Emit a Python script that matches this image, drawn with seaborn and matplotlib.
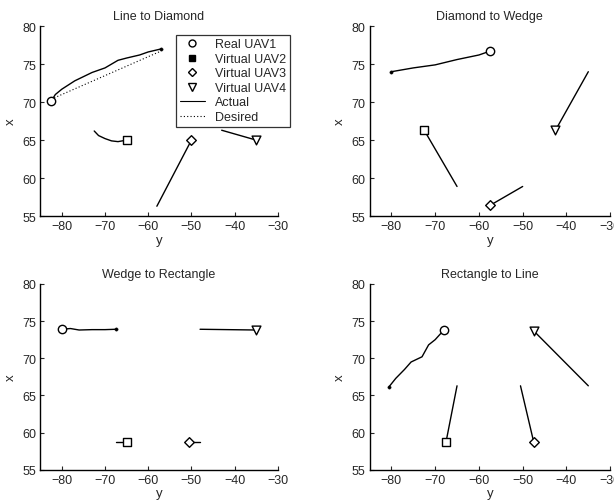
import numpy as np
import pandas as pd
import matplotlib
matplotlib.use("Agg")
import matplotlib.pyplot as plt
from matplotlib.lines import Line2D
import seaborn as sns

sns.set_style("ticks")
plt.rcParams['font.family'] = ['Liberation Sans', 'DejaVu Sans']

titles = ["Line to Diamond", "Diamond to Wedge", "Wedge to Rectangle", "Rectangle to Line"]
labels = ["Real UAV1", "Virtual UAV2", "Virtual UAV3", "Virtual UAV4"]
markers = ["o", "s", "D", "v"]

# Panel 1: Line to Diamond  (y, x) pairs along each path; final position last
p1_uav1_y = [-57, -60, -62, -65, -67, -70, -73, -77, -80, -81.5, -82.5]
p1_uav1_x = [77.0, 76.6, 76.2, 75.8, 75.5, 74.5, 73.9, 72.8, 71.7, 71.0, 70.1]
p1_uav1_des_y = [-57.5, -82.0]
p1_uav1_des_x = [76.6, 70.5]
p1_uav2_y = [-72.5, -71.5, -70, -68.5, -67, -65]
p1_uav2_x = [66.2, 65.6, 65.2, 64.9, 64.8, 65.0]
p1_uav3_y = [-58, -50]
p1_uav3_x = [56.3, 65.0]
p1_uav4_y = [-43, -35]
p1_uav4_x = [66.3, 65.0]

# Panel 2: Diamond to Wedge
p2_uav1_y = [-80, -75, -70, -65, -60, -57.5]
p2_uav1_x = [74.0, 74.5, 74.9, 75.6, 76.2, 76.7]
p2_uav2_y = [-65, -72.5]
p2_uav2_x = [58.9, 66.3]
p2_uav3_y = [-50, -57.5]
p2_uav3_x = [58.9, 56.4]
p2_uav4_y = [-35, -42.5]
p2_uav4_x = [74.0, 66.3]

# Panel 3: Wedge to Rectangle
p3_uav1_y = [-67.5, -70, -73, -76, -78, -80]
p3_uav1_x = [73.9, 73.85, 73.85, 73.8, 74.0, 73.9]
p3_uav2_y = [-67.5, -65]
p3_uav2_x = [58.8, 58.8]
p3_uav3_y = [-48, -50.5]
p3_uav3_x = [58.8, 58.8]
p3_uav4_y = [-48, -35]
p3_uav4_x = [73.9, 73.8]

# Panel 4: Rectangle to Line
p4_uav1_y = [-80.5, -79, -77, -75.5, -73, -71.5, -70, -68]
p4_uav1_x = [66.2, 67.3, 68.5, 69.5, 70.2, 71.8, 72.5, 73.8]
p4_uav2_y = [-65, -67.5]
p4_uav2_x = [66.3, 58.8]
p4_uav3_y = [-50.5, -47.5]
p4_uav3_x = [66.3, 58.8]
p4_uav4_y = [-35, -47.5]
p4_uav4_x = [66.3, 73.7]

panels = [
    [(p1_uav1_y, p1_uav1_x), (p1_uav2_y, p1_uav2_x), (p1_uav3_y, p1_uav3_x), (p1_uav4_y, p1_uav4_x)],
    [(p2_uav1_y, p2_uav1_x), (p2_uav2_y, p2_uav2_x), (p2_uav3_y, p2_uav3_x), (p2_uav4_y, p2_uav4_x)],
    [(p3_uav1_y, p3_uav1_x), (p3_uav2_y, p3_uav2_x), (p3_uav3_y, p3_uav3_x), (p3_uav4_y, p3_uav4_x)],
    [(p4_uav1_y, p4_uav1_x), (p4_uav2_y, p4_uav2_x), (p4_uav3_y, p4_uav3_x), (p4_uav4_y, p4_uav4_x)],
]

fig = plt.figure(figsize=(6.14, 5.02), dpi=100)
rects = [
    [0.0655, 0.5675, 0.387, 0.3785],
    [0.6018, 0.5675, 0.392, 0.3785],
    [0.0655, 0.0620, 0.387, 0.3705],
    [0.6018, 0.0620, 0.392, 0.3705],
]

for i, (rect, title, paths) in enumerate(zip(rects, titles, panels)):
    ax = fig.add_axes(rect)
    for j, (yy, xx) in enumerate(paths):
        df = pd.DataFrame({"y": yy, "x": xx})
        sns.lineplot(data=df, x="y", y="x", sort=False, estimator=None,
                     color="black", linewidth=1.0, ax=ax)
        end = df.iloc[[-1]]
        sns.scatterplot(data=end, x="y", y="x", marker=markers[j],
                        s=[36, 26, 24, 40][j],
                        facecolor="white", edgecolor="black", linewidth=1.0, ax=ax, zorder=5)
        if j == 0:
            start = df.iloc[[0]]
            sns.scatterplot(data=start, x="y", y="x", marker="o", s=6,
                            color="black", edgecolor="black", ax=ax, zorder=5)
    if i == 0:
        dfd = pd.DataFrame({"y": p1_uav1_des_y, "x": p1_uav1_des_x})
        sns.lineplot(data=dfd, x="y", y="x", sort=False, estimator=None,
                     color="black", linewidth=0.8, linestyle=(0, (1, 2)), ax=ax)
    ax.set_xlim(-85, -30)
    ax.set_ylim(55, 80)
    ax.set_xticks([-80, -70, -60, -50, -40, -30])
    ax.set_xticklabels(["\u221280", "\u221270", "\u221260", "\u221250", "\u221240", "\u221230"])
    ax.set_yticks([55, 60, 65, 70, 75, 80])
    ax.set_title(title, fontsize=9, pad=5)
    ax.set_xlabel("y", fontsize=9.5, labelpad=1)
    ax.set_ylabel("x", fontsize=9.5, labelpad=4)
    ax.tick_params(direction="in", length=3, width=0.8, labelsize=9, pad=3)
    for s in ["top", "right"]:
        ax.spines[s].set_visible(False)
    for s in ["left", "bottom"]:
        ax.spines[s].set_linewidth(1.0)
        ax.spines[s].set_color("black")

    if i == 0:
        handles = [
            Line2D([], [], marker="o", linestyle="none", markerfacecolor="white", markeredgecolor="black", markersize=5),
            Line2D([], [], marker="s", linestyle="none", markerfacecolor="black", markeredgecolor="black", markersize=5),
            Line2D([], [], marker="D", linestyle="none", markerfacecolor="white", markeredgecolor="black", markersize=4.5),
            Line2D([], [], marker="v", linestyle="none", markerfacecolor="white", markeredgecolor="black", markersize=5.5),
            Line2D([], [], color="black", linewidth=0.8),
            Line2D([], [], color="black", linewidth=0.8, linestyle=(0, (1, 2))),
        ]
        leg = ax.legend(handles, labels + ["Actual", "Desired"], loc="upper left",
                        bbox_to_anchor=(0.571, 0.955), fontsize=9, frameon=True,
                        fancybox=False, edgecolor="black", handlelength=2.0,
                        handletextpad=0.8, labelspacing=0.2, borderpad=0.3,
                        borderaxespad=0)
        leg.get_frame().set_linewidth(0.9)

fig.savefig("out.png", dpi=100)
